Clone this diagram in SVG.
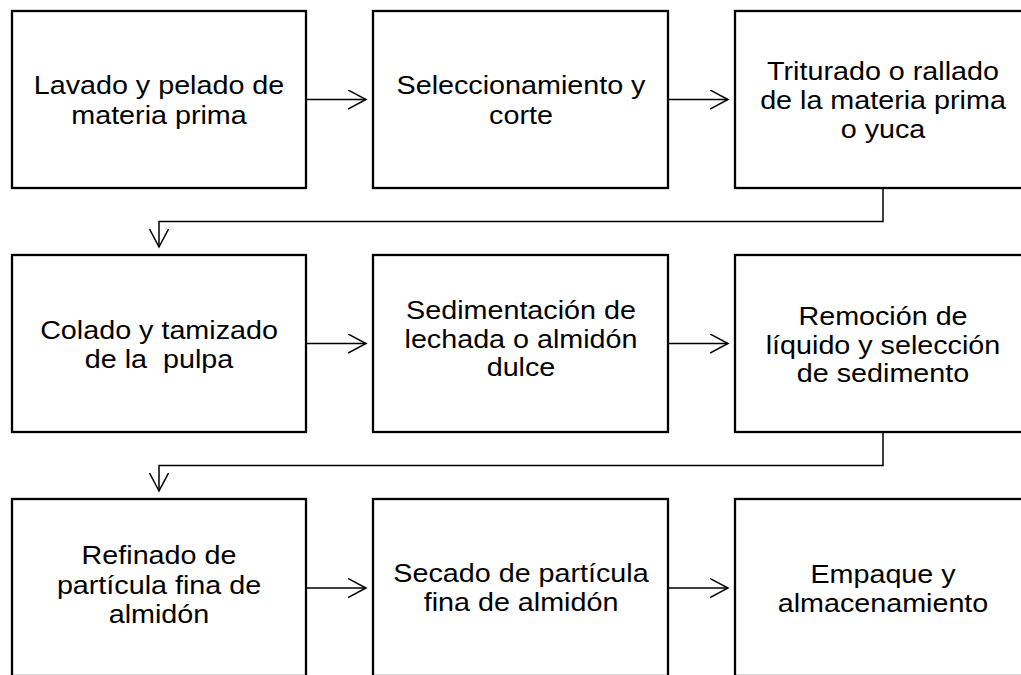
<svg xmlns="http://www.w3.org/2000/svg" width="1021" height="675" viewBox="0 0 1021 675">
<style>
.box{fill:#fff;stroke:#000;stroke-width:2.3}
.lbl{font-family:"Liberation Sans",Arial,sans-serif;font-size:26px;fill:#000;text-anchor:middle;white-space:pre}
.con{fill:none;stroke:#000;stroke-width:1.5}
</style>
<defs>
<marker id="ah" markerUnits="userSpaceOnUse" markerWidth="22" markerHeight="22" refX="18" refY="10" orient="auto" viewBox="0 0 22 22">
<path d="M0,0.5 L18,10 L0,19.5" fill="none" stroke="#000" stroke-width="1.5"/>
</marker>
</defs>
<rect width="1021" height="675" fill="#fff"/>
<g id="n1"><rect class="box" x="12" y="11" width="294" height="177"/>
<text class="lbl" transform="translate(159 0) scale(1.105 1)"><tspan x="0" y="94">Lavado y pelado de</tspan><tspan x="0" y="124">materia prima</tspan></text></g>
<g id="n2"><rect class="box" x="373" y="11" width="295" height="177"/>
<text class="lbl" transform="translate(521 0) scale(1.105 1)"><tspan x="0" y="94">Seleccionamiento y</tspan><tspan x="0" y="124">corte</tspan></text></g>
<g id="n3"><rect class="box" x="735" y="11" width="296" height="177"/>
<text class="lbl" transform="translate(883 0) scale(1.105 1)"><tspan x="0" y="80">Triturado o rallado</tspan><tspan x="0" y="109">de la materia prima</tspan><tspan x="0" y="138">o yuca</tspan></text></g>
<g id="n4"><rect class="box" x="12" y="255" width="294" height="177"/>
<text class="lbl" transform="translate(159 0) scale(1.105 1)"><tspan x="0" y="339">Colado y tamizado</tspan><tspan x="0" y="368">de la  pulpa</tspan></text></g>
<g id="n5"><rect class="box" x="373" y="255" width="295" height="177"/>
<text class="lbl" transform="translate(521 0) scale(1.105 1)"><tspan x="0" y="319">Sedimentación de</tspan><tspan x="0" y="348">lechada o almidón</tspan><tspan x="0" y="376">dulce</tspan></text></g>
<g id="n6"><rect class="box" x="735" y="255" width="296" height="177"/>
<text class="lbl" transform="translate(883 0) scale(1.105 1)"><tspan x="0" y="325">Remoción de</tspan><tspan x="0" y="354">líquido y selección</tspan><tspan x="0" y="382">de sedimento</tspan></text></g>
<g id="n7"><rect class="box" x="12" y="499" width="294" height="177"/>
<text class="lbl" transform="translate(159 0) scale(1.105 1)"><tspan x="0" y="564">Refinado de</tspan><tspan x="0" y="594">partícula fina de</tspan><tspan x="0" y="623">almidón</tspan></text></g>
<g id="n8"><rect class="box" x="373" y="499" width="295" height="177"/>
<text class="lbl" transform="translate(521 0) scale(1.105 1)"><tspan x="0" y="582">Secado de partícula</tspan><tspan x="0" y="611">fina de almidón</tspan></text></g>
<g id="n9"><rect class="box" x="735" y="499" width="296" height="177"/>
<text class="lbl" transform="translate(883 0) scale(1.105 1)"><tspan x="0" y="583">Empaque y</tspan><tspan x="0" y="612">almacenamiento</tspan></text></g>
<g id="connectors">
<path class="con" d="M306,99.5 H366" marker-end="url(#ah)"/>
<path class="con" d="M668,99.5 H728" marker-end="url(#ah)"/>
<path class="con" d="M883,188 V221.5 H159 V247" marker-end="url(#ah)"/>
<path class="con" d="M306,343.5 H366" marker-end="url(#ah)"/>
<path class="con" d="M668,343.5 H728" marker-end="url(#ah)"/>
<path class="con" d="M883,432 V465.5 H159 V491" marker-end="url(#ah)"/>
<path class="con" d="M306,588 H366" marker-end="url(#ah)"/>
<path class="con" d="M668,588 H728" marker-end="url(#ah)"/>
</g>
</svg>
